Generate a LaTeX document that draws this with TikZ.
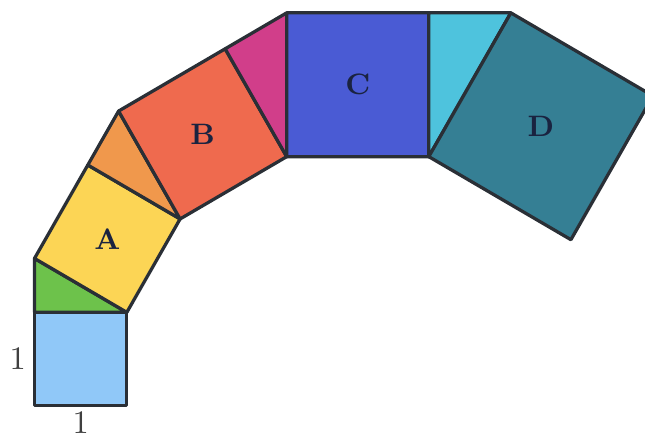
\documentclass[tikz,border=0pt]{standalone}
\usepackage{xcolor}
\usetikzlibrary{calc}

\definecolor{sqzero}{HTML}{90C8F8}
\definecolor{trizero}{HTML}{6DC24B}
\definecolor{sqa}{HTML}{FCD555}
\definecolor{tria}{HTML}{F0984C}
\definecolor{sqb}{HTML}{EF6A4E}
\definecolor{trib}{HTML}{D13E8A}
\definecolor{sqcol}{HTML}{4A5BD4}
\definecolor{tric}{HTML}{4EC3DD}
\definecolor{sqd}{HTML}{357F94}
\definecolor{edge}{HTML}{2A2F36}
\definecolor{ink}{HTML}{1A2340}

\begin{document}
\begin{tikzpicture}
  \tikzstyle{every node}=[font=\normalsize]
  \tikzstyle{piece}=[draw=edge, line width=1pt, line join=round]
  \tikzstyle{sqlabel}=[font=\small\bfseries, text=ink]
  \tikzstyle{side}=[text=black!75, inner sep=1.5pt]
  \useasboundingbox (-0.374, -0.328) rectangle (6.614, 4.396);

  \begin{scope}[transform canvas={yscale=1.012}]
  \coordinate (p0) at (0, 0);
  \coordinate (q0) at (1, 0);

  \foreach \i/\sqfill/\trifill/\lab in {0/sqzero/trizero/, 1/sqa/tria/A, 2/sqb/trib/B, 3/sqcol/tric/C, 4/sqd/tric/D} {
    \pgfmathtruncatemacro{\j}{\i+1}
    \coordinate (t\i) at ($(p\i)!1!90:(q\i)$);
    \coordinate (u\i) at ($(q\i)!1!-90:(p\i)$);
    \draw[piece, fill=\sqfill] (p\i) -- (q\i) -- (u\i) -- (t\i) -- cycle;
    \node[sqlabel] (lab\i) at ($(p\i)!0.5!(u\i)$) {\lab};
    % right-angled triangle on the outer side, legs 1 : 1/sqrt(3)
    \ifnum\i<4
      \coordinate (p\j) at ($(t\i)!0.57735!90:(u\i)$);
      \coordinate (q\j) at (u\i);
      \draw[piece, fill=\trifill] (t\i) -- (u\i) -- (p\j) -- cycle;
    \fi
  }

  \node[side, left=1pt] (oneleft) at ($(p0)!0.5!(t0)$) {1};
  \node[side, below] (onebelow) at ($(p0)!0.5!(q0)$) {1};
  \end{scope}

\end{tikzpicture}
\end{document}
